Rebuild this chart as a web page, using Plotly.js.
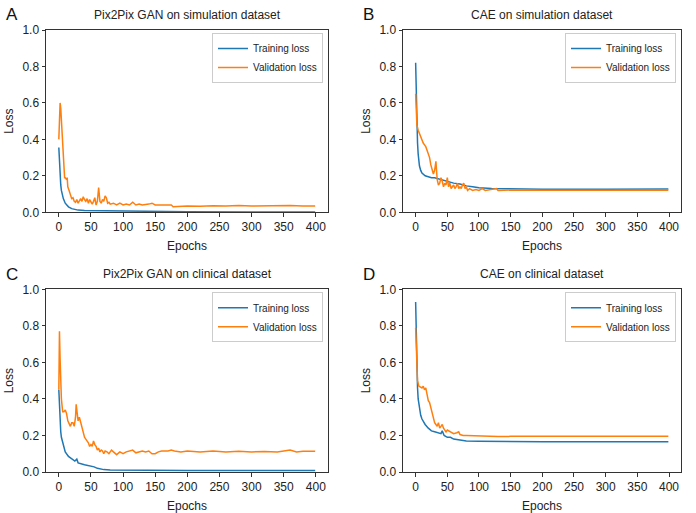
<!DOCTYPE html>
<html>
<head>
<meta charset="utf-8">
<script src="https://cdn.plot.ly/plotly-3.0.1.min.js"></script>
<style>html,body{margin:0;padding:0;background:#fff;}#chart{width:696px;height:513px;}</style>
</head>
<body>
<div id="chart"></div>
<script>
// ---- Panel A: Pix2Pix GAN on simulation dataset ----
const epochsA_train = [0,1,2,3,4,5,7,10,15,20,25,30,40,60,80,100,150,200,300,399];
const lossA_train   = [0.355,0.25,0.19,0.15,0.12,0.10,0.075,0.05,0.03,0.02,0.015,0.012,0.01,0.009,0.007,0.006,0.004,0.003,0.002,0.002];
const epochsA_val = [0,1,2,3,4,5,6,7,8,9,10,12,13,14,16,18,20,22,24,26,28,30,32,34,36,38,40,42,44,46,48,50,52,54,56,58,60,62,64,66,68,70,72,74,76,78,80,85,90,95,100,105,110,115,120,125,130,140,145,150,160,170,175,178,185,200,220,240,260,280,300,320,340,360,380,399];
const lossA_val   = [0.40,0.52,0.60,0.57,0.50,0.42,0.35,0.28,0.22,0.19,0.19,0.18,0.19,0.14,0.12,0.09,0.075,0.08,0.06,0.055,0.07,0.05,0.065,0.075,0.06,0.085,0.07,0.06,0.075,0.05,0.07,0.06,0.045,0.06,0.08,0.04,0.06,0.135,0.06,0.05,0.07,0.06,0.09,0.08,0.05,0.055,0.045,0.05,0.04,0.05,0.04,0.045,0.04,0.055,0.04,0.045,0.04,0.045,0.05,0.04,0.038,0.04,0.04,0.03,0.032,0.035,0.033,0.036,0.034,0.037,0.034,0.036,0.035,0.037,0.034,0.035];

// ---- Panel B: CAE on simulation dataset ----
const epochsB_train = [0,1,2,3,4,5,6,8,10,15,20,25,30,35,40,50,60,70,80,90,100,120,150,200,300,399];
const lossB_train   = [0.82,0.60,0.46,0.38,0.32,0.28,0.255,0.23,0.215,0.20,0.195,0.19,0.19,0.185,0.18,0.17,0.16,0.155,0.145,0.14,0.135,0.13,0.128,0.127,0.127,0.128];
const epochsB_val = [0,1,2,4,6,8,10,12,14,16,18,20,22,24,26,28,30,32,34,36,38,40,42,44,46,48,50,52,54,56,58,60,62,64,66,68,70,72,74,76,78,80,82,85,90,95,100,105,110,120,128,130,150,200,300,399];
const lossB_val   = [0.65,0.55,0.48,0.45,0.43,0.41,0.40,0.38,0.37,0.36,0.34,0.32,0.30,0.26,0.24,0.21,0.23,0.28,0.18,0.15,0.16,0.19,0.17,0.14,0.16,0.15,0.19,0.14,0.16,0.13,0.14,0.15,0.13,0.14,0.16,0.13,0.14,0.13,0.15,0.16,0.13,0.14,0.12,0.13,0.12,0.125,0.12,0.13,0.12,0.125,0.13,0.12,0.122,0.121,0.122,0.121];

// ---- Panel C: Pix2Pix GAN on clinical dataset ----
const epochsC_train = [0,1,2,3,4,6,8,10,15,20,25,28,30,40,50,55,60,70,80,100,150,200,300,399];
const lossC_train   = [0.45,0.33,0.27,0.22,0.19,0.16,0.13,0.11,0.085,0.07,0.06,0.07,0.05,0.04,0.033,0.028,0.02,0.013,0.011,0.01,0.009,0.008,0.008,0.008];
const epochsC_val = [0,1,2,3,4,6,8,10,12,14,16,18,20,22,24,26,27,28,30,32,34,36,38,40,42,44,46,48,50,52,54,56,58,60,62,64,66,68,70,72,75,78,80,82,85,88,90,95,100,105,110,115,120,125,130,135,140,145,150,155,160,170,175,180,190,200,220,240,260,280,300,320,340,360,370,380,399];
const lossC_val   = [0.45,0.77,0.62,0.48,0.40,0.33,0.33,0.34,0.32,0.28,0.26,0.25,0.27,0.27,0.25,0.30,0.37,0.33,0.28,0.30,0.27,0.24,0.22,0.19,0.18,0.17,0.16,0.14,0.15,0.14,0.17,0.15,0.14,0.12,0.13,0.11,0.12,0.115,0.10,0.115,0.11,0.10,0.11,0.12,0.11,0.10,0.095,0.11,0.10,0.11,0.115,0.12,0.105,0.11,0.115,0.11,0.115,0.10,0.10,0.11,0.115,0.115,0.12,0.115,0.11,0.115,0.11,0.115,0.11,0.113,0.11,0.112,0.11,0.12,0.11,0.113,0.113];

// ---- Panel D: CAE on clinical dataset ----
const epochsD_train = [0,1,2,3,4,6,8,10,15,20,25,30,35,40,42,45,50,55,60,70,80,100,150,200,300,399];
const lossD_train   = [0.93,0.70,0.55,0.46,0.40,0.35,0.31,0.29,0.26,0.24,0.225,0.22,0.215,0.21,0.225,0.20,0.19,0.19,0.18,0.175,0.17,0.168,0.165,0.165,0.165,0.165];
const epochsD_val = [0,1,2,3,5,8,10,12,14,16,18,20,22,24,26,28,30,32,34,36,38,40,42,44,46,48,50,55,60,65,68,70,75,80,90,100,110,130,150,200,250,300,350,399];
const lossD_val   = [0.79,0.65,0.55,0.50,0.47,0.465,0.46,0.47,0.45,0.46,0.42,0.39,0.38,0.35,0.32,0.30,0.27,0.26,0.25,0.27,0.24,0.25,0.26,0.24,0.23,0.22,0.23,0.22,0.21,0.215,0.22,0.205,0.20,0.20,0.198,0.20,0.195,0.194,0.195,0.195,0.195,0.194,0.195,0.195];

const titles = ["Pix2Pix GAN on simulation dataset","CAE on simulation dataset","Pix2Pix GAN on clinical dataset","CAE on clinical dataset"];
const panelLetters = ["A","B","C","D"];
const seriesNames = ["Training loss","Validation loss"];
const xTicks = [0,50,100,150,200,250,300,350,400];
const yTicks = [0,0.2,0.4,0.6,0.8,1.0];
const yTickText = ["0.0","0.2","0.4","0.6","0.8","1.0"];

const BLUE = "#1f77b4", ORANGE = "#ff7f0e";
const FONT = "Liberation Sans, Arial, Helvetica, sans-serif";
const W = 696, H = 513;

const panels = [
  {tx: epochsA_train, ty: lossA_train, vx: epochsA_val, vy: lossA_val, px:[46,328], py:[30,212.3]},
  {tx: epochsB_train, ty: lossB_train, vx: epochsB_val, vy: lossB_val, px:[403,681], py:[30,212.3]},
  {tx: epochsC_train, ty: lossC_train, vx: epochsC_val, vy: lossC_val, px:[46,328], py:[289.3,472]},
  {tx: epochsD_train, ty: lossD_train, vx: epochsD_val, vy: lossD_val, px:[403,681], py:[289.3,472]},
];

const data = [];
const layout = {
  width: W, height: H,
  margin: {l:0,r:0,t:0,b:0},
  paper_bgcolor: "#fff", plot_bgcolor: "#fff",
  font: {family: FONT, size: 12, color: "#222"},
  annotations: [],
  showlegend: true
};

panels.forEach((p, i) => {
  const n = i + 1;
  const xa = n === 1 ? "x" : "x" + n;
  const ya = n === 1 ? "y" : "y" + n;
  const lg = n === 1 ? "legend" : "legend" + n;
  data.push({x: p.tx, y: p.ty, type: "scatter", mode: "lines", name: seriesNames[0],
    xaxis: xa, yaxis: ya, legend: lg, line: {color: BLUE, width: 1.5}});
  data.push({x: p.vx, y: p.vy, type: "scatter", mode: "lines", name: seriesNames[1],
    xaxis: xa, yaxis: ya, legend: lg, line: {color: ORANGE, width: 1.5}});

  const xd = [p.px[0]/W, p.px[1]/W];
  const yd = [1 - p.py[1]/H, 1 - p.py[0]/H];
  const axCommon = {showline: true, mirror: true, linecolor: "#333", linewidth: 1,
    ticks: "outside", ticklen: 3.5, tickwidth: 1, tickcolor: "#333",
    showgrid: false, zeroline: false, tickfont: {size: 12, color: "#222"}};
  layout["xaxis" + (n === 1 ? "" : n)] = Object.assign({}, axCommon, {
    domain: xd, anchor: ya, range: [-19.95, 418.95], tickvals: xTicks,
    title: {text: "Epochs", font: {size: 12}, standoff: 8}
  });
  layout["yaxis" + (n === 1 ? "" : n)] = Object.assign({}, axCommon, {
    domain: yd, anchor: xa, range: [0, 1.0], tickvals: yTicks, ticktext: yTickText,
    title: {text: "Loss", font: {size: 12}, standoff: 6}
  });
  layout[lg] = {
    x: (p.px[1] - 5) / W, xanchor: "right", xref: "paper",
    y: 1 - (p.py[0] + 3) / H, yanchor: "top", yref: "paper",
    bgcolor: "rgba(255,255,255,0.8)", bordercolor: "#cccccc", borderwidth: 1,
    font: {size: 10, color: "#222"}, tracegroupgap: 0, itemwidth: 30
  };
  layout.annotations.push({
    text: titles[i], xref: "paper", yref: "paper",
    x: (xd[0] + xd[1]) / 2, y: 1 - (p.py[0] - 15) / H, xanchor: "center", yanchor: "middle",
    showarrow: false, font: {size: 12, color: "#222"}
  });
  layout.annotations.push({
    text: panelLetters[i], xref: "paper", yref: "paper",
    x: (p.px[0] - 42) / W, y: 1 - (p.py[0] - 15) / H, xanchor: "left", yanchor: "middle",
    showarrow: false, font: {size: 17, color: "#111"}
  });
});

Plotly.newPlot("chart", data, layout, {displayModeBar: false, staticPlot: true});
</script>
</body>
</html>
